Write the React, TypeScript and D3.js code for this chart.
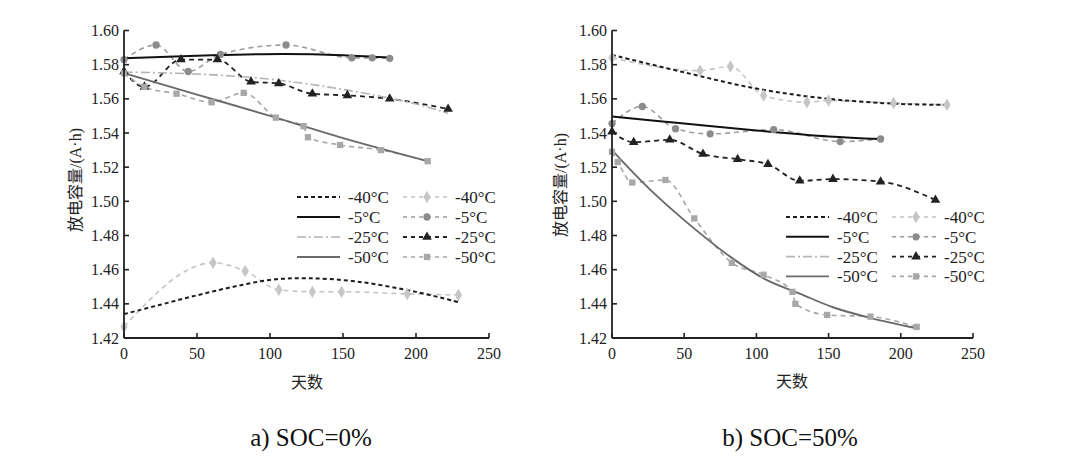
import React from "react";
import * as d3 from "d3";

type Pt = [number, number];

// ---------- data ----------
const xTicks = [0, 50, 100, 150, 200, 250];
const yTicks = [1.42, 1.44, 1.46, 1.48, 1.5, 1.52, 1.54, 1.56, 1.58, 1.6];
const legendLabels = ["-40°C", "-5°C", "-25°C", "-50°C"];
const captions = ["a) SOC=0%", "b) SOC=50%"];
const xTitle = "天数";
const yTitleCJK = "放电容量";
const yTitleUnit = "/(A·h)";

// SOC = 0%  fitted curves
const a_fit40: Pt[] = [[0, 1.434], [25, 1.4395], [50, 1.445], [75, 1.45], [100, 1.454], [125, 1.455], [160, 1.453], [200, 1.447], [229, 1.441]];
const a_fit5: Pt[] = [[0, 1.5837], [60, 1.5855], [110, 1.5862], [150, 1.5855], [184, 1.584]];
const a_fit25: Pt[] = [[0, 1.5757], [50, 1.5745], [100, 1.5715], [150, 1.5655], [200, 1.557], [222, 1.5515]];
const a_fit50: Pt[] = [[0, 1.575], [50, 1.5625], [100, 1.55], [150, 1.537], [208, 1.5235]];
// SOC = 0%  measured data
const a_data40: Pt[] = [[0, 1.4266], [61, 1.464], [83, 1.4592], [106, 1.4482], [129, 1.4471], [149, 1.4471], [194, 1.4458], [229, 1.4452]];
const a_data5: Pt[] = [[0, 1.583], [22, 1.5915], [44, 1.576], [66, 1.586], [111, 1.5915], [156, 1.584], [170, 1.584], [182, 1.5837]];
const a_data25: Pt[] = [[0, 1.576], [14, 1.567], [39, 1.583], [64, 1.583], [87, 1.57], [106, 1.569], [129, 1.563], [153, 1.562], [182, 1.56], [222, 1.554]];
const a_data50: Pt[] = [[0, 1.575], [14, 1.567], [36, 1.563], [60, 1.558], [82, 1.5635], [104, 1.549], [123, 1.544], [126, 1.5375], [148, 1.533], [176, 1.53], [208, 1.5235]];

// SOC = 50%  fitted curves
const b_fit40: Pt[] = [[0, 1.5857], [50, 1.5755], [100, 1.566], [150, 1.56], [200, 1.557], [232, 1.5565]];
const b_fit5: Pt[] = [[0, 1.5496], [50, 1.5455], [100, 1.5415], [150, 1.538], [186, 1.5365]];
const b_fit50: Pt[] = [[0, 1.53], [25, 1.508], [50, 1.489], [82, 1.4675], [107, 1.454], [130, 1.446], [153, 1.438], [180, 1.4315], [211, 1.4257]];
// SOC = 50%  measured data
const b_data40: Pt[] = [[0, 1.584], [61, 1.5765], [82, 1.579], [105, 1.562], [135, 1.558], [150, 1.559], [195, 1.5575], [232, 1.5565]];
const b_data5: Pt[] = [[0, 1.5455], [21, 1.5555], [44, 1.5425], [68, 1.5395], [112, 1.542], [158, 1.535], [186, 1.5365]];
const b_data25: Pt[] = [[0, 1.5408], [15, 1.5346], [40, 1.536], [63, 1.5277], [87, 1.5246], [108, 1.5217], [130, 1.512], [153, 1.513], [186, 1.5115], [224, 1.5008]];
const b_data50: Pt[] = [[0, 1.529], [4, 1.523], [14, 1.511], [37, 1.5125], [57, 1.49], [83, 1.464], [105, 1.457], [125, 1.447], [127, 1.44], [149, 1.4335], [179, 1.4325], [211, 1.4265]];

// ---------- styles ----------
type FitStyle = { stroke: string; width: number; dash?: string };
type DataStyle = FitStyle & { symbol: d3.SymbolType; fill: string; size: number };

const fitStyles: FitStyle[] = [
  { stroke: "#1c1c1c", width: 2, dash: "4,3" },
  { stroke: "#111", width: 2 },
  { stroke: "#b3b3b3", width: 1.6, dash: "9,3,2,3" },
  { stroke: "#6a6a6a", width: 1.9 },
];
const dataStyles: DataStyle[] = [
  { stroke: "#c4c4c4", width: 1.6, dash: "5,4", symbol: d3.symbolDiamond, fill: "#c6c6c6", size: 46 },
  { stroke: "#9c9c9c", width: 1.6, dash: "5,4", symbol: d3.symbolCircle, fill: "#8c8c8c", size: 42 },
  { stroke: "#222", width: 1.8, dash: "5,4", symbol: d3.symbolTriangle, fill: "#222", size: 40 },
  { stroke: "#a6a6a6", width: 1.6, dash: "5,4", symbol: d3.symbolSquare, fill: "#a8a8a8", size: 40 },
];

const SERIF = "'Liberation Serif', 'DejaVu Serif', 'Noto Serif', serif";
const CJK = "'Noto Sans CJK SC', sans-serif";
const INK = "#222";

type PanelProps = {
  xRange: [number, number];
  fits: (Pt[] | null)[];
  data: Pt[][];
  legend: { x: number; y: number; step: number };
  yTitlePos: [number, number];
  xTitlePos: [number, number];
  caption: string;
  captionPos: [number, number];
};

function Panel(p: PanelProps) {
  const x = d3.scaleLinear().domain([0, 250]).range(p.xRange);
  const y = d3.scaleLinear().domain([1.42, 1.6]).range([338, 30.5]);
  const fitLine = d3.line<Pt>().x((d) => x(d[0])).y((d) => y(d[1])).curve(d3.curveCatmullRom.alpha(0.5));
  const dataLine = d3.line<Pt>().x((d) => x(d[0])).y((d) => y(d[1])).curve(d3.curveMonotoneX);
  const x0 = x(0);
  const yb = y(1.42);
  const tl = 5;
  const lg = p.legend;
  const serif = { fontFamily: SERIF };
  const cjk = { fontFamily: CJK };
  return (
    <g>
      {p.data.map((s, i) => (
        <path key={"d" + i} d={dataLine(s) || ""} fill="none" stroke={dataStyles[i].stroke}
          strokeWidth={dataStyles[i].width} strokeDasharray={dataStyles[i].dash} />
      ))}
      {p.fits.map((s, i) =>
        s ? (
          <path key={"f" + i} d={fitLine(s) || ""} fill="none" stroke={fitStyles[i].stroke}
            strokeWidth={fitStyles[i].width} strokeDasharray={fitStyles[i].dash} />
        ) : null
      )}
      {p.data.map((s, i) =>
        s.map((d, j) => (
          <path key={"m" + i + "-" + j} transform={`translate(${x(d[0])},${y(d[1])})`}
            d={d3.symbol().type(dataStyles[i].symbol).size(dataStyles[i].size)() || ""}
            fill={dataStyles[i].fill} />
        ))
      )}
      <line x1={x0} x2={x0} y1={y(1.6)} y2={yb} stroke={INK} strokeWidth={1.8} />
      <line x1={x0} x2={x(250)} y1={yb} y2={yb} stroke={INK} strokeWidth={1.8} />
      {yTicks.map((t) => (
        <g key={"yt" + t}>
          <line x1={x0} x2={x0 + tl} y1={y(t)} y2={y(t)} stroke={INK} strokeWidth={1.6} />
          <text x={x0 - 5} y={y(t)} dy="0.35em" textAnchor="end" fontSize={16} style={serif} fill={INK}>
            {t.toFixed(2)}
          </text>
        </g>
      ))}
      {xTicks.map((t) => (
        <g key={"xt" + t}>
          <line x1={x(t)} x2={x(t)} y1={yb} y2={yb - tl} stroke={INK} strokeWidth={1.6} />
          <text x={x(t)} y={359} textAnchor="middle" fontSize={16} style={serif} fill={INK}>
            {t}
          </text>
        </g>
      ))}
      <text x={p.xTitlePos[0]} y={p.xTitlePos[1]} textAnchor="middle" fontSize={16} style={cjk} fill={INK}>
        {xTitle}
      </text>
      <text transform={`translate(${p.yTitlePos[0]},${p.yTitlePos[1]}) rotate(-90)`} textAnchor="middle"
        dy="0.35em" fontSize={16} fill={INK}>
        <tspan style={cjk}>{yTitleCJK}</tspan>
        <tspan style={serif}>{yTitleUnit}</tspan>
      </text>
      {legendLabels.map((lab, i) => {
        const ly = lg.y + i * lg.step;
        const fs = fitStyles[i];
        const ds = dataStyles[i];
        return (
          <g key={"lg" + i}>
            <line x1={lg.x} x2={lg.x + 43} y1={ly} y2={ly} stroke={fs.stroke} strokeWidth={fs.width} strokeDasharray={fs.dash} />
            <text x={lg.x + 51} y={ly} dy="0.35em" fontSize={17} style={serif} fill={INK}>{lab}</text>
            <line x1={lg.x + 106} x2={lg.x + 153} y1={ly} y2={ly} stroke={ds.stroke} strokeWidth={ds.width} strokeDasharray="4,4" />
            <path transform={`translate(${lg.x + 130},${ly})`} d={d3.symbol().type(ds.symbol).size(ds.size)() || ""} fill={ds.fill} />
            <text x={lg.x + 158} y={ly} dy="0.35em" fontSize={17} style={serif} fill={INK}>{lab}</text>
          </g>
        );
      })}
      <text x={p.captionPos[0]} y={p.captionPos[1]} textAnchor="middle" fontSize={25} style={serif} fill="#111">
        {p.caption}
      </text>
    </g>
  );
}

export default function App() {
  return (
    <svg width={1080} height={465} viewBox="0 0 1080 465"
      style={{ position: "absolute", left: 0, top: 0, background: "#fff", display: "block" }}>
      <rect x={0} y={0} width={1080} height={465} fill="#fff" />
      <Panel
        xRange={[124, 489]}
        fits={[a_fit40, a_fit5, a_fit25, a_fit50]}
        data={[a_data40, a_data5, a_data25, a_data50]}
        legend={{ x: 297, y: 197, step: 20 }}
        yTitlePos={[75, 180]}
        xTitlePos={[307, 388]}
        caption={captions[0]}
        captionPos={[311, 446]}
      />
      <Panel
        xRange={[612, 973]}
        fits={[b_fit40, b_fit5, null, b_fit50]}
        data={[b_data40, b_data5, b_data25, b_data50]}
        legend={{ x: 786, y: 217, step: 19.8 }}
        yTitlePos={[560, 185]}
        xTitlePos={[792, 387]}
        caption={captions[1]}
        captionPos={[790, 446]}
      />
    </svg>
  );
}
